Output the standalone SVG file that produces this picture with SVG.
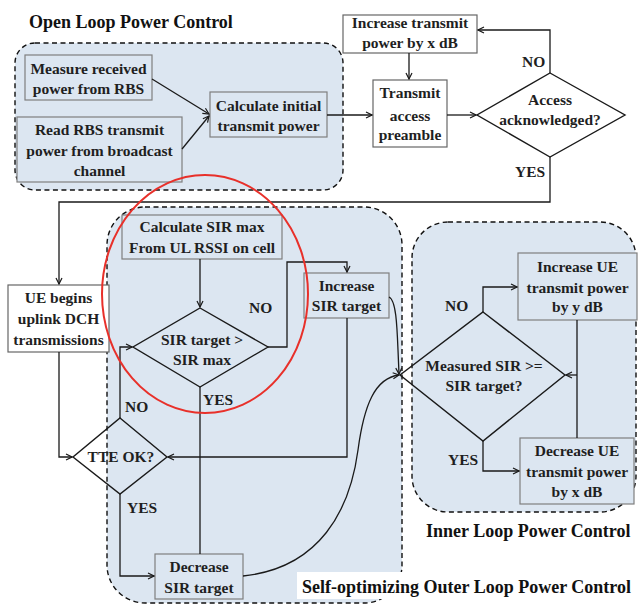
<svg xmlns="http://www.w3.org/2000/svg" width="640" height="606" viewBox="0 0 640 606">
<defs>
<marker id="arr" markerWidth="8" markerHeight="8" refX="7" refY="4" orient="auto" markerUnits="userSpaceOnUse">
<path d="M1,1 L7,4 L1,7" fill="none" stroke="#1a1a1a" stroke-width="1.2"/>
</marker>
</defs>
<style>
text{font-family:"Liberation Serif","Times New Roman",serif;font-weight:bold;fill:#1f1f1f}
.t{font-size:15.5px;text-anchor:middle}
.lbl{font-size:15.5px}
.ttl{font-size:18px;fill:#111}
.grp{fill:#dce6f1;stroke:#111;stroke-width:1.4;stroke-dasharray:5,3.5}
.box{fill:#dce6f1;stroke:#7f7f7f;stroke-width:1.2}
.wbox{fill:#fff;stroke:#666;stroke-width:1.2}
.dia{fill:none;stroke:#1a1a1a;stroke-width:1.4}
.c{fill:none;stroke:#1a1a1a;stroke-width:1.3}
.a{marker-end:url(#arr)}
</style>
<rect width="640" height="606" fill="#fff"/>

<g id="group-open-loop">
<rect class="grp" x="15" y="43" width="328" height="147" rx="20"/>
<text class="ttl" x="29" y="28">Open Loop Power Control</text>
</g>
<g id="group-outer-loop">
<rect class="grp" x="107" y="207" width="295" height="396" rx="38"/>
<rect x="297" y="572" width="336" height="27" fill="#fff"/>
<text class="ttl" x="302" y="593">Self-optimizing Outer Loop Power Control</text>
</g>
<g id="group-inner-loop">
<rect class="grp" x="412" y="222" width="224" height="290" rx="36"/>
<text class="ttl" x="426" y="537">Inner Loop Power Control</text>
</g>

<g id="n-measure">
<rect class="box" x="25" y="55" width="127" height="45"/>
<text class="t" x="88.5" y="74">Measure received</text>
<text class="t" x="88.5" y="94">power from RBS</text>
</g>
<g id="n-read">
<rect class="box" x="17" y="117" width="165" height="65"/>
<text class="t" x="99.5" y="135">Read RBS transmit</text>
<text class="t" x="99.5" y="156">power from broadcast</text>
<text class="t" x="99.5" y="176">channel</text>
</g>
<g id="n-calc-initial">
<rect class="box" x="210" y="92" width="117" height="45"/>
<text class="t" x="268.5" y="111">Calculate initial</text>
<text class="t" x="268.5" y="131">transmit power</text>
</g>
<g id="n-increase-tx">
<rect class="wbox" x="343" y="15" width="134" height="38"/>
<text class="t" x="410" y="28">Increase transmit</text>
<text class="t" x="410" y="48">power by x dB</text>
</g>
<g id="n-transmit">
<rect class="wbox" x="373" y="80" width="74" height="67"/>
<text class="t" x="410" y="98">Transmit</text>
<text class="t" x="410" y="121">access</text>
<text class="t" x="410" y="140">preamble</text>
</g>
<g id="n-access">
<polygon class="dia" points="550,73 625,115 550,157 477,115"/>
<text class="t" x="550" y="105">Access</text>
<text class="t" x="550" y="125">acknowledged?</text>
</g>
<g id="n-ue-begins">
<rect class="wbox" x="8" y="285" width="101" height="67"/>
<text class="t" x="58.5" y="303">UE begins</text>
<text class="t" x="58.5" y="324">uplink DCH</text>
<text class="t" x="58.5" y="345">transmissions</text>
</g>
<g id="n-calc-sirmax">
<rect class="box" x="122" y="215" width="160" height="44"/>
<text class="t" x="202" y="232">Calculate SIR max</text>
<text class="t" x="202" y="253">From UL RSSI on cell</text>
</g>
<g id="n-sir-check">
<polygon class="dia" points="200,308 268,347 200,387 133,347"/>
<text class="t" x="202" y="345">SIR target &gt;</text>
<text class="t" x="202" y="365">SIR max</text>
</g>
<g id="n-increase-sir">
<rect class="box" x="304" y="273" width="85" height="45"/>
<text class="t" x="346.5" y="291">Increase</text>
<text class="t" x="346.5" y="311">SIR target</text>
</g>
<g id="n-tte">
<polygon class="dia" points="120,418 167,457 120,494 73,457"/>
<text class="t" x="121" y="462">TTE OK?</text>
</g>
<g id="n-decrease-sir">
<rect class="box" x="155" y="554" width="88" height="45"/>
<text class="t" x="199" y="572">Decrease</text>
<text class="t" x="199" y="593">SIR target</text>
</g>
<g id="n-measured">
<polygon class="dia" points="483,312 565,375 483,441 400,375"/>
<text class="t" x="484" y="371">Measured SIR &gt;=</text>
<text class="t" x="484" y="391">SIR target?</text>
</g>
<g id="n-increase-ue">
<rect class="box" x="518" y="253" width="119" height="67"/>
<text class="t" x="577.5" y="272">Increase UE</text>
<text class="t" x="577.5" y="293">transmit power</text>
<text class="t" x="577.5" y="312">by y dB</text>
</g>
<g id="n-decrease-ue">
<rect class="box" x="520" y="438" width="114" height="66"/>
<text class="t" x="577" y="456">Decrease UE</text>
<text class="t" x="577" y="477">transmit power</text>
<text class="t" x="577" y="497">by x dB</text>
</g>

<g id="connectors">
<path class="c a" d="M152,79 L209,114"/>
<path class="c a" d="M182,149 L209,116"/>
<path class="c a" d="M327,115 L372,115"/>
<path class="c a" d="M409,53 L409,79"/>
<path class="c a" d="M447,115 L476,115"/>
<path class="c a" d="M550,73 L550,30 L478,30"/>
<path class="c a" d="M550,157 L550,202 L59,202 L59,284"/>
<path class="c a" d="M200,259 L200,307"/>
<path class="c a" d="M268,347 L287,347 L287,262 L347,262 L347,272"/>
<path class="c" d="M200,387 L200,554"/>
<path class="c a" d="M347,318 L347,457 L168,457"/>
<path class="c a" d="M120,418 L120,347 L132,347"/>
<path class="c a" d="M59,352 L59,457 L72,457"/>
<path class="c a" d="M120,494 L120,576 L154,576"/>
<path class="c a" d="M243,576 C320,568 350,510 358,450 C364,405 375,378 399,375"/>
<path class="c a" d="M389,297 C396,300 397,325 398,350 L399,374"/>
<path class="c a" d="M483,312 L483,287 L517,287"/>
<path class="c a" d="M483,441 L483,471 L519,471"/>
<path class="c" d="M577,320 L577,438"/>
<path class="c a" d="M577,375 L566,375"/>
<text class="lbl" x="522" y="67">NO</text>
<text class="lbl" x="515" y="177">YES</text>
<text class="lbl" x="249" y="313">NO</text>
<text class="lbl" x="203" y="405">YES</text>
<text class="lbl" x="125" y="412">NO</text>
<text class="lbl" x="127" y="513">YES</text>
<text class="lbl" x="445" y="311">NO</text>
<text class="lbl" x="448" y="465">YES</text>
</g>

<g id="highlight">
<ellipse cx="205" cy="294" rx="103" ry="119" fill="none" stroke="#e8302a" stroke-width="2"/>
</g>
</svg>
